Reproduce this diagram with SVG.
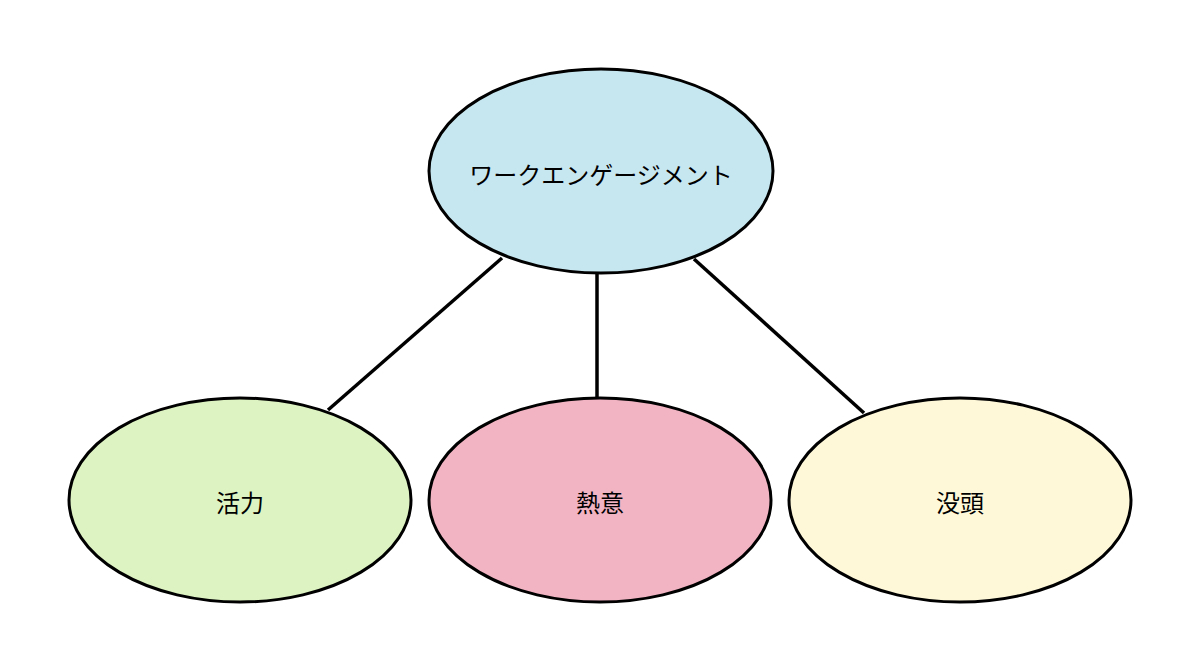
<svg xmlns="http://www.w3.org/2000/svg" width="1200" height="672" viewBox="0 0 1200 672">
<style>
.n{stroke:#000;stroke-width:3}
.t{font-family:"Noto Sans CJK JP","Noto Sans",sans-serif;font-size:24px;fill:#000;text-anchor:middle;dominant-baseline:central}
.c{stroke:#000;stroke-width:3.5;fill:none}
</style>
<rect width="1200" height="672" fill="#fff"/>
<g id="connectors">
<line class="c" x1="502" y1="258" x2="328" y2="410"/>
<line class="c" x1="597" y1="274" x2="597" y2="398"/>
<line class="c" x1="694" y1="259" x2="864" y2="413"/>
</g>
<g id="engagement"><ellipse class="n" cx="601" cy="171" rx="172" ry="102" fill="#c7e7f0"/><text class="t" x="601" y="173">ワークエンゲージメント</text></g>
<g id="vigor"><ellipse class="n" cx="240" cy="500" rx="171" ry="102" fill="#ddf3c1"/><text class="t" x="240" y="501">活力</text></g>
<g id="dedication"><ellipse class="n" cx="600" cy="500" rx="171" ry="102" fill="#f2b3c3"/><text class="t" x="600" y="501">熱意</text></g>
<g id="absorption"><ellipse class="n" cx="960" cy="500" rx="171" ry="102" fill="#fef8d9"/><text class="t" x="960" y="501">没頭</text></g>
</svg>
